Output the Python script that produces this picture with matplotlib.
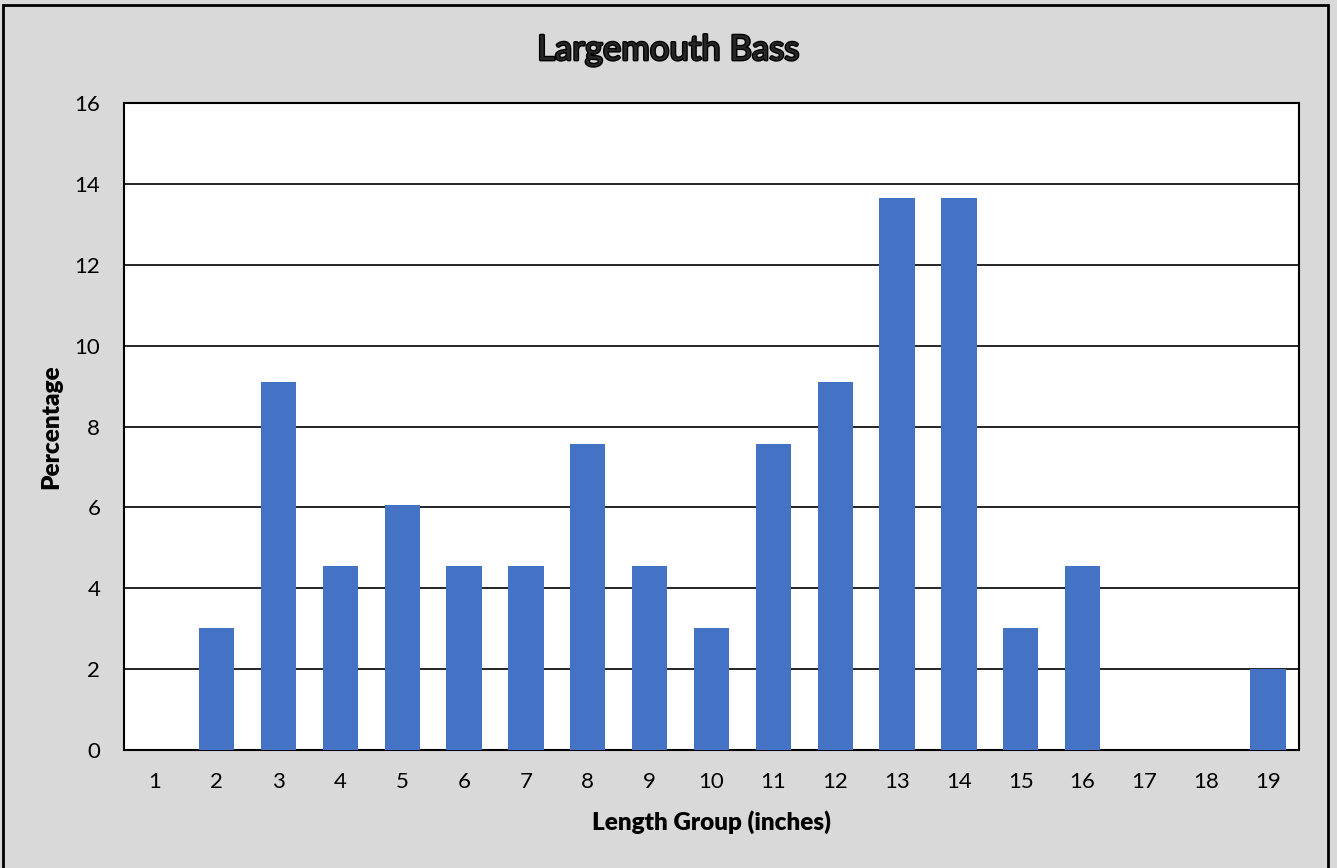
import matplotlib.pyplot as plt
import matplotlib.patheffects as pe
from matplotlib.patches import Rectangle

# length groups and percentage of fish in each
length_groups = [str(i) for i in range(1, 20)]
percentages = [0, 3.03, 9.09, 4.55, 6.06, 4.55, 4.55, 7.58, 4.55, 3.03,
               7.58, 9.09, 13.64, 13.64, 3.03, 4.55, 0, 0, 2.0]
y_ticks = [0, 2, 4, 6, 8, 10, 12, 14, 16]

plt.rcParams['font.family'] = ['Lato', 'DejaVu Sans']

bg = '#d9d9d9'
fig = plt.figure(figsize=(13.37, 8.68), dpi=100, facecolor=bg)
ax = fig.add_axes([0.0927, 0.1359, 0.9716 - 0.0927, 0.8813 - 0.1359])
ax.set_facecolor('white')

# outer chart border
fig.patches.append(Rectangle((3 / 1337, -0.02), 1325 / 1337, 1.02 - 5 / 868,
                             transform=fig.transFigure, fill=False,
                             edgecolor='black', linewidth=2, zorder=0))

x = range(len(length_groups))
ax.bar(x, percentages, width=0.571, color='#4472c4', zorder=3)

ax.set_xlim(-0.5, len(length_groups) - 0.5)
ax.set_ylim(0, 16)
ax.set_yticks(y_ticks)
ax.set_xticks(list(x))
ax.set_xticklabels(length_groups)
ax.yaxis.grid(True, color='black', linewidth=1.2, zorder=0)
ax.set_axisbelow(True)

for s in ax.spines.values():
    s.set_color('black')
    s.set_linewidth(1.5)

ax.tick_params(axis='both', length=0, labelsize=16, colors='black')
ax.tick_params(axis='x', pad=16)
ax.tick_params(axis='y', pad=17)

ax.set_xlabel('Length Group (inches)', fontsize=17.5, fontweight='heavy', labelpad=13)
ax.set_ylabel('Percentage', fontsize=17.5, fontweight='heavy', labelpad=9)

fig.text(0.5, 1 - 50 / 868, 'Largemouth Bass', ha='center', va='center',
         fontsize=25, color='#262626',
         path_effects=[pe.withStroke(linewidth=2, foreground='black')])

fig.savefig('out.png', dpi=100, facecolor=bg)
